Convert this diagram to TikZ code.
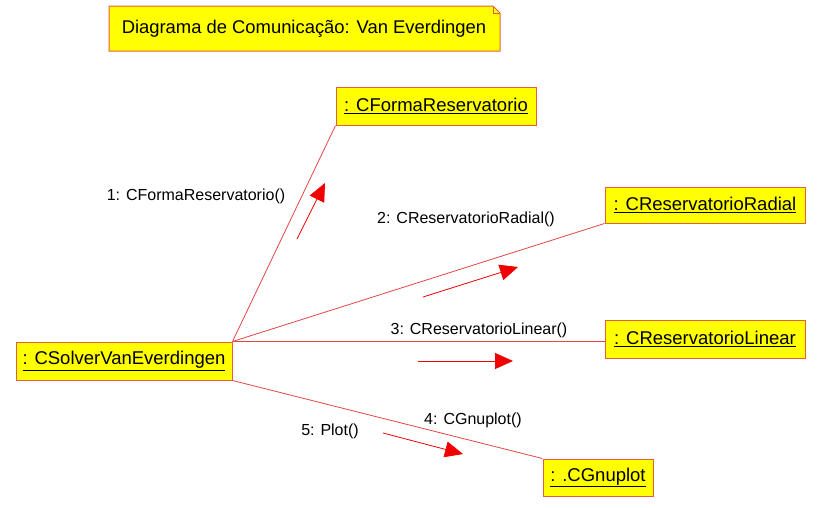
\documentclass[tikz,border=0pt]{standalone}
\usepackage{fontspec}
\setmainfont{Liberation Sans}
\usetikzlibrary{arrows.meta,calc}
\definecolor{boxborder}{RGB}{228,96,60}
\definecolor{boxfill}{RGB}{255,255,0}
\definecolor{linkred}{RGB}{226,70,70}
\definecolor{arrowred}{RGB}{240,0,0}
\tikzset{
  obj/.style={draw=boxborder, fill=boxfill, line width=1pt, inner sep=0pt,
    font=\fontsize{18.5}{21}\selectfont},
  link/.style={draw=linkred, line width=0.8pt},
  msg/.style={draw=arrowred, line width=0.8pt,
    -{Triangle[length=18pt,width=16pt,fill=arrowred]}},
  lbl/.style={font=\fontsize{16}{19}\selectfont, inner sep=0pt},
}
\begin{document}
\begin{tikzpicture}[x=1pt,y=-1pt]
\useasboundingbox[fill=white] (0,0) rectangle (830,507);
% title note
\draw[boxborder, fill=boxfill, line width=1pt]
  (109,6) -- (493,6) -- (500,13) -- (500,51) -- (109,51) -- cycle;
\draw[boxborder, line width=0.8pt] (493,6) -- (493,13) -- (500,13);
\node[font=\fontsize{18.4}{21}\selectfont, inner sep=0pt] (title) at (304,29)
  {Diagrama de Comunicação: Van Everdingen};
% objects
\node[obj, minimum width=200pt, minimum height=38pt] (form) at (436,106)
  {\underline{: CFormaReservatorio}};
\node[obj, minimum width=216pt, minimum height=38pt] (solver) at (124,361)
  {\underline{: CSolverVanEverdingen}};
\node[obj, minimum width=200pt, minimum height=36pt] (radial) at (705,205)
  {\underline{: CReservatorioRadial}};
\node[obj, minimum width=200pt, minimum height=38pt] (linear) at (705,339)
  {\underline{: CReservatorioLinear}};
\node[obj, minimum width=110pt, minimum height=37pt] (gnu) at (598,477.5)
  {\underline{: .CGnuplot}};
% links
\draw[link] (solver.north east) -- (form.south west);
\draw[link] (solver.north east) -- (radial.south west);
\draw[link] (solver.north east) -- (solver.north east -| linear.west);
\draw[link] (solver.south east) -- (gnu.north west);
% messages
\coordinate (m1a) at (297,239); \coordinate (m1b) at (325,183);
\coordinate (m2a) at (423,297); \coordinate (m2b) at (518,267);
\coordinate (m3a) at (418,361); \coordinate (m3b) at (513,361);
\coordinate (m5a) at (383,433); \coordinate (m5b) at (463,454);
\draw[msg] (m1a) -- (m1b);
\draw[msg] (m2a) -- (m2b);
\draw[msg] (m3a) -- (m3b);
\draw[msg] (m5a) -- (m5b);
% labels
\node[lbl] (l1) at (196,196) {1: CFormaReservatorio()};
\node[lbl] (l2) at (466,219) {2: CReservatorioRadial()};
\node[lbl] (l3) at (479,330) {3: CReservatorioLinear()};
\node[lbl] (l4) at (473,420) {4: CGnuplot()};
\node[lbl] (l5) at (330,431) {5: Plot()};
\end{tikzpicture}
\end{document}
